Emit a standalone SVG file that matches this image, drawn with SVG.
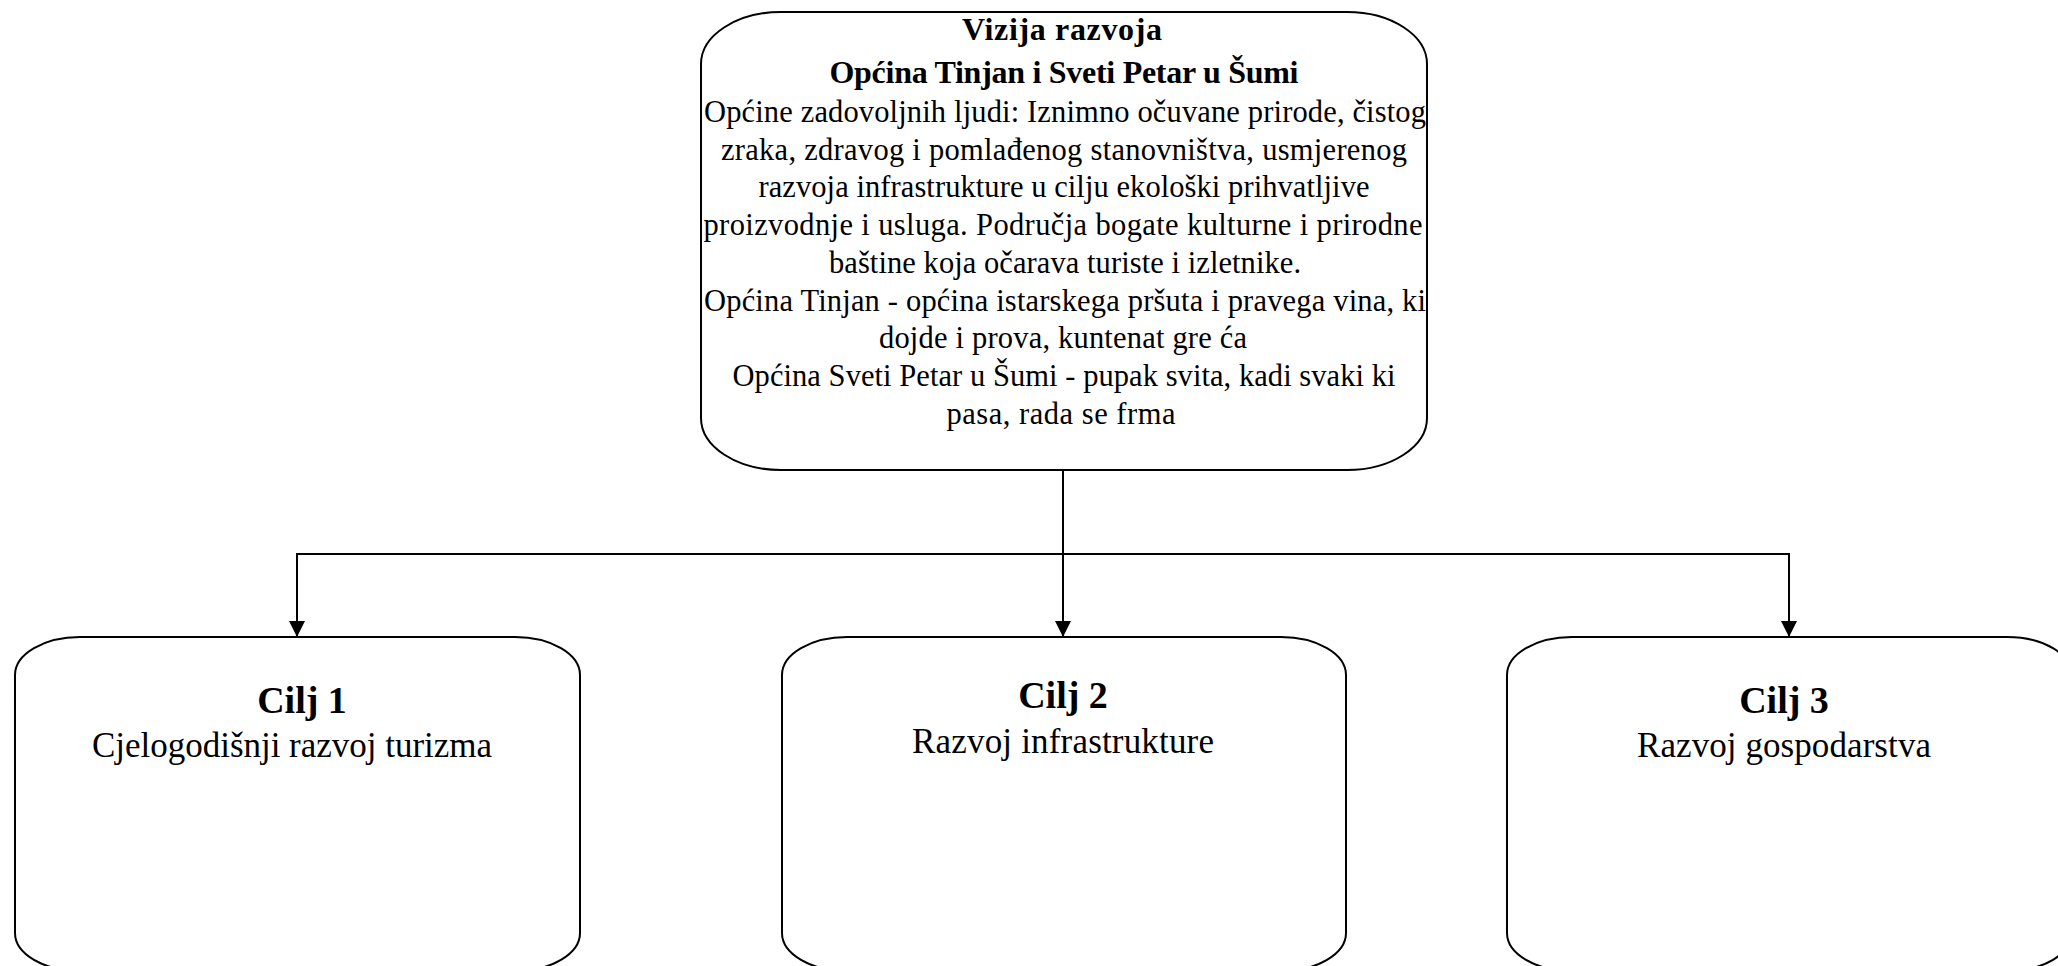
<svg xmlns="http://www.w3.org/2000/svg" width="2058" height="966" viewBox="0 0 2058 966">
<style>
  .box { fill: #ffffff; stroke: #000000; stroke-width: 2; }
  .conn { fill: none; stroke: #000000; stroke-width: 2; }
  .t { font-family: "Liberation Serif", "DejaVu Serif", serif; fill: #000000; text-anchor: middle; }
  .body { font-size: 30.5px; }
  .title { font-size: 32px; font-weight: bold; }
  .goal { font-size: 35px; }
  .goalT { font-size: 38px; font-weight: bold; }
</style>
<defs>
  <marker id="arrow" markerUnits="userSpaceOnUse" markerWidth="16" markerHeight="16" viewBox="0 0 16 16" refX="16" refY="8" orient="auto">
    <path d="M0,0 L16,8 L0,16 Z" fill="#000000"/>
  </marker>
</defs>
<rect x="0" y="0" width="2058" height="966" fill="#ffffff"/>
<g id="connectors">
  <line class="conn" x1="1063" y1="470" x2="1063" y2="637" marker-end="url(#arrow)"/>
  <line class="conn" x1="297" y1="554" x2="1789" y2="554"/>
  <line class="conn" x1="297" y1="553" x2="297" y2="637" marker-end="url(#arrow)"/>
  <line class="conn" x1="1789" y1="553" x2="1789" y2="637" marker-end="url(#arrow)"/>
</g>
<g id="vision">
  <rect class="box" x="701" y="12" width="726" height="458" rx="80" ry="52"/>
  <text class="t title" x="1062" y="40" textLength="200">Vizija razvoja</text>
  <text class="t title" x="1064" y="83" textLength="469">Općina Tinjan i Sveti Petar u Šumi</text>
  <text class="t body" x="1065" y="122" textLength="722">Općine zadovoljnih ljudi: Iznimno očuvane prirode, čistog</text>
  <text class="t body" x="1064" y="159.7" textLength="686">zraka, zdravog i pomlađenog stanovništva, usmjerenog</text>
  <text class="t body" x="1064" y="197.4" textLength="611">razvoja infrastrukture u cilju ekološki prihvatljive</text>
  <text class="t body" x="1063" y="235.1" textLength="719">proizvodnje i usluga. Područja bogate kulturne i prirodne</text>
  <text class="t body" x="1065" y="272.8" textLength="472">baštine koja očarava turiste i izletnike.</text>
  <text class="t body" x="1065" y="310.5" textLength="722">Općina Tinjan - općina istarskega pršuta i pravega vina, ki</text>
  <text class="t body" x="1063" y="348.2" textLength="368">dojde i prova, kuntenat gre ća</text>
  <text class="t body" x="1064" y="385.9" textLength="663">Općina Sveti Petar u Šumi - pupak svita, kadi svaki ki</text>
  <text class="t body" x="1061" y="423.6" textLength="229">pasa, rada se frma</text>
</g>
<g id="goal1">
  <rect class="box" x="15" y="637" width="565" height="334" rx="65" ry="38"/>
  <text class="t goalT" x="302" y="713">Cilj 1</text>
  <text class="t goal" x="292" y="757" textLength="400">Cjelogodišnji razvoj turizma</text>
</g>
<g id="goal2">
  <rect class="box" x="782" y="637" width="564" height="334" rx="65" ry="38"/>
  <text class="t goalT" x="1063" y="708">Cilj 2</text>
  <text class="t goal" x="1063" y="753" textLength="302">Razvoj infrastrukture</text>
</g>
<g id="goal3">
  <rect class="box" x="1507" y="637" width="565" height="334" rx="65" ry="38"/>
  <text class="t goalT" x="1784" y="713">Cilj 3</text>
  <text class="t goal" x="1784" y="757" textLength="294">Razvoj gospodarstva</text>
</g>
</svg>
